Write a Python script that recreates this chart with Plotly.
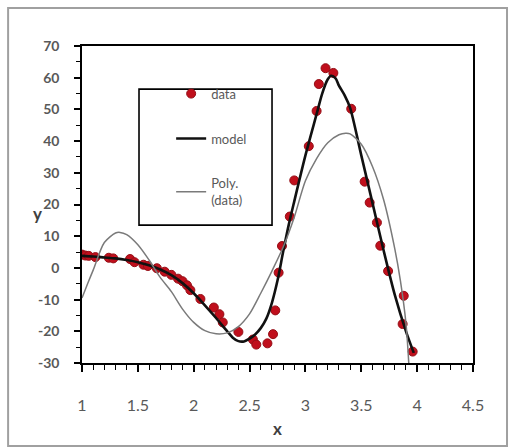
import plotly.graph_objects as go

# observed data
data_x = [1.00, 1.03, 1.06, 1.12, 1.24, 1.28, 1.43, 1.47, 1.55, 1.59, 1.67, 1.74, 1.80, 1.86,
          1.90, 1.94, 1.97, 2.06, 2.18, 2.23, 2.26, 2.40, 2.53, 2.56, 2.66, 2.71, 2.73, 2.76,
          2.79, 2.86, 2.90, 3.03, 3.10, 3.12, 3.18, 3.25, 3.41, 3.53, 3.575, 3.64, 3.67, 3.74,
          3.88, 3.87, 3.96]
data_y = [4.2, 3.9, 3.8, 3.4, 3.2, 3.0, 2.8, 1.8, 1.0, 0.6, -0.1, -1.2, -2.2, -3.4,
          -4.2, -5.5, -7.0, -9.8, -12.5, -14.6, -17.2, -20.2, -22.6, -24.2, -23.8, -20.9, -13.4, -1.5,
          6.9, 16.2, 27.6, 38.4, 49.5, 58.0, 63.0, 61.5, 50.2, 27.2, 20.6, 14.3, 7.0, -1.0,
          -8.8, -17.7, -26.4]

# model curve
model_x = [1.0, 1.1, 1.2, 1.3, 1.4, 1.5, 1.6, 1.7, 1.8, 1.9, 2.0, 2.1, 2.2, 2.3, 2.35, 2.4, 2.45,
           2.5, 2.55, 2.6, 2.65, 2.7, 2.75, 2.8, 2.85, 2.9, 3.0, 3.1, 3.15, 3.2, 3.23, 3.27,
           3.3, 3.35, 3.4, 3.5, 3.6, 3.7, 3.8, 3.9, 3.97]
model_y = [3.8, 3.6, 3.3, 3.0, 2.5, 1.8, 0.8, -0.5, -2.3, -4.8, -8.0, -11.8, -15.8, -20.0, -22.0, -23.1, -23.2,
           -22.3, -21.0, -19.0, -16.0, -11.0, -4.0, 5.0, 13.5, 21.0, 35.5, 48.5, 55.0, 59.5, 60.6, 59.8,
           57.5, 54.5, 50.5, 35.5, 20.5, 5.5, -8.5, -20.0, -26.8]

# polynomial trendline
poly_x = [1.0, 1.05, 1.1, 1.2, 1.3, 1.34, 1.4, 1.5, 1.6, 1.7, 1.8, 1.9, 2.0, 2.1, 2.2, 2.3,
          2.4, 2.5, 2.6, 2.7, 2.8, 2.9, 3.0, 3.1, 3.2, 3.3, 3.36, 3.4, 3.5, 3.6, 3.7, 3.8,
          3.85, 3.9, 3.925]
poly_y = [-9.5, -5.0, -0.7, 8.0, 11.0, 11.2, 10.5, 7.3, 2.5, -3.0, -7.5, -13.0, -17.2, -19.8, -20.8, -20.5,
          -18.5, -14.5, -8.0, -1.0, 6.5, 16.0, 27.5, 34.5, 39.5, 42.0, 42.5, 42.3, 39.0, 32.0, 21.5, 6.0,
          -4.0, -17.5, -30.0]

x_ticks = [1, 1.5, 2, 2.5, 3, 3.5, 4, 4.5]
y_ticks = [-30, -20, -10, 0, 10, 20, 30, 40, 50, 60, 70]

FONT = "Lato, 'Open Sans', sans-serif"
GREY = "#595959"

fig = go.Figure()
fig.add_trace(go.Scatter(x=data_x, y=data_y, mode="markers", name="data", legendgroup="a",
                         marker=dict(color="#C00F1C", size=9, line=dict(color="#950E16", width=1))))
fig.add_trace(go.Scatter(x=model_x, y=model_y, mode="lines", name="model", legendgroup="b",
                         line=dict(color="#111111", width=2.6, shape="spline", smoothing=0.8)))
fig.add_trace(go.Scatter(x=poly_x, y=poly_y, mode="lines", name="Poly.<br>(data)", legendgroup="c",
                         line=dict(color="#7a7a7a", width=1.5, shape="spline", smoothing=0.8)))

fig.update_layout(
    template="none",
    width=509, height=447,
    margin=dict(l=82, r=36, t=46, b=84, autoexpand=False),
    paper_bgcolor="white", plot_bgcolor="white",
    font=dict(family=FONT, color=GREY),
    legend=dict(x=0.228, y=0.897, xanchor="left", yanchor="top",
                bgcolor="rgba(0,0,0,0)", borderwidth=0,
                tracegroupgap=25, font=dict(size=13, color=GREY, family=FONT)),
    xaxis=dict(range=[1, 4.5], tickvals=x_ticks, ticktext=[str(v) for v in x_ticks],
               automargin=False,
               showgrid=False, zeroline=False, showline=True, linecolor="#000000", linewidth=1.5,
               mirror=True, ticks="outside", ticklen=7, tickwidth=1.5, tickcolor="#000000",
               minor=dict(dtick=0.1, ticks="outside", ticklen=5, tickwidth=1.2, tickcolor="#000000",
                          showgrid=False),
               tickfont=dict(size=16, color=GREY, family=FONT), ticklabelstandoff=20,
               title=dict(text="<b>x</b>", font=dict(size=17, color="#404040", family=FONT), standoff=10)),
    yaxis=dict(range=[-30, 70], tickvals=y_ticks,
               ticktext=["<b>%d</b>" % v for v in y_ticks],
               automargin=False,
               showgrid=False, zeroline=False, showline=True, linecolor="#000000", linewidth=1.5,
               mirror=True, ticks="outside", ticklen=6, tickwidth=1.5, tickcolor="#000000",
               minor=dict(dtick=5, ticks="outside", ticklen=4, tickwidth=1.2, tickcolor="#000000",
                          showgrid=False),
               tickfont=dict(size=14, color=GREY, family=FONT), ticklabelstandoff=12),
    shapes=[
        dict(type="rect", xref="paper", yref="paper", x0=-0.189, x1=1.087, y0=-0.262, y1=1.120,
             line=dict(color="#a0a0a0", width=2), fillcolor="rgba(0,0,0,0)", layer="below"),
        dict(type="rect", xref="paper", yref="paper", x0=0.1458, x1=0.486, y0=0.435, y1=0.864,
             line=dict(color="#000000", width=1.6), fillcolor="white", layer="below"),
    ],
    annotations=[
        dict(text="<b>y</b>", xref="paper", yref="paper", x=-0.13, y=0.473, showarrow=False,
             font=dict(size=17, color="#404040", family=FONT)),
    ],
)

fig.write_html("out.html", config={"displayModeBar": False},
               post_script="document.body.style.margin='0';document.body.style.overflow='hidden';")
